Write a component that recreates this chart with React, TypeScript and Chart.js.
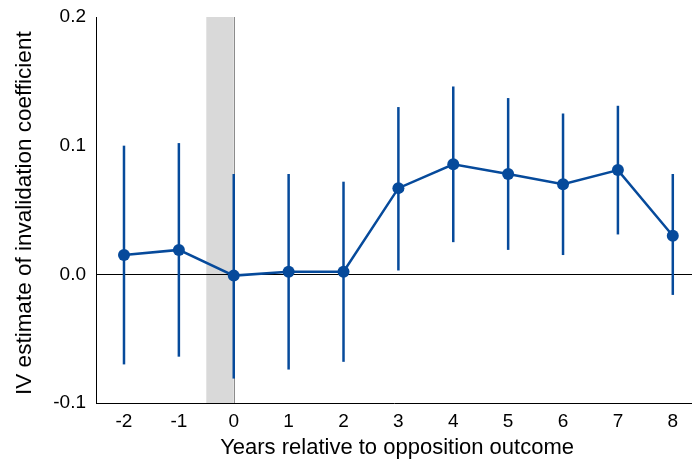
import React, { useEffect, useRef } from 'react';
import { Chart, registerables } from 'chart.js';

Chart.register(...registerables);

const years = [-2, -1, 0, 1, 2, 3, 4, 5, 6, 7, 8];
const estimates = [0.015, 0.019, -0.001, 0.002, 0.002, 0.067, 0.0855, 0.078, 0.070, 0.081, 0.030];
const ciUpper = [0.100, 0.102, 0.078, 0.078, 0.072, 0.130, 0.146, 0.137, 0.125, 0.131, 0.078];
const ciLower = [-0.070, -0.064, -0.081, -0.074, -0.068, 0.003, 0.025, 0.019, 0.015, 0.031, -0.016];
const yTicks = [-0.1, 0, 0.1, 0.2];
const shadeFrom = -0.5;
const shadeTo = 0;

const BLUE = '#064a9b';
const FONT = "'Liberation Sans', Arial, sans-serif";

const decorPlugin = {
  id: 'decor',
  beforeDatasetsDraw(chart: any) {
    const { ctx, chartArea, scales } = chart;
    const x = scales.x;
    const y = scales.y;
    ctx.save();
    // shaded band
    const x0 = x.getPixelForValue(shadeFrom);
    const x1 = x.getPixelForValue(shadeTo);
    ctx.fillStyle = '#d9d9d9';
    ctx.fillRect(x0, chartArea.top, x1 - x0, chartArea.bottom - chartArea.top);
    // vertical line at 0
    ctx.strokeStyle = '#8c8c8c';
    ctx.lineWidth = 1;
    ctx.beginPath();
    ctx.moveTo(Math.round(x1) + 0.5, chartArea.top);
    ctx.lineTo(Math.round(x1) + 0.5, chartArea.bottom);
    ctx.stroke();
    // zero line
    const yz = Math.round(y.getPixelForValue(0)) + 0.5;
    ctx.strokeStyle = '#000000';
    ctx.beginPath();
    ctx.moveTo(chartArea.left, yz);
    ctx.lineTo(chartArea.right, yz);
    ctx.stroke();
    // error bars
    ctx.strokeStyle = BLUE;
    ctx.lineWidth = 2.5;
    ctx.lineCap = 'butt';
    for (let i = 0; i < years.length; i++) {
      const px = x.getPixelForValue(years[i]);
      ctx.beginPath();
      ctx.moveTo(px, y.getPixelForValue(ciUpper[i]));
      ctx.lineTo(px, y.getPixelForValue(ciLower[i]));
      ctx.stroke();
    }
    ctx.restore();
  },
};

export default function App() {
  const ref = useRef<HTMLCanvasElement>(null);
  useEffect(() => {
    if (!ref.current) return;
    const chart = new Chart(ref.current, {
      type: 'line',
      data: {
        datasets: [
          {
            data: years.map((yr, i) => ({ x: yr, y: estimates[i] })),
            borderColor: BLUE,
            backgroundColor: BLUE,
            borderWidth: 2.5,
            pointRadius: 6,
            pointBackgroundColor: BLUE,
            pointBorderColor: BLUE,
            pointBorderWidth: 0,
            tension: 0,
            clip: false,
          },
        ],
      },
      options: {
        animation: false,
        responsive: false,
        events: [],
        layout: { autoPadding: false, padding: { top: 17, right: 0, left: 0, bottom: 0 } },
        plugins: { legend: { display: false }, tooltip: { enabled: false } },
        scales: {
          x: {
            type: 'linear',
            min: -2.51,
            max: 8.35,
            afterBuildTicks: (s: any) => {
              s.ticks = years.map((v) => ({ value: v }));
            },
            afterFit: (s: any) => {
              s.height = 58;
              s.paddingRight = 0;
              s.paddingLeft = 0;
            },
            grid: { display: false, drawTicks: false },
            border: { display: true, color: '#000000', width: 1 },
            ticks: {
              color: '#000000',
              padding: 7,
              font: { family: FONT, size: 19 },
              callback: (v: any) => String(v),
            },
            title: {
              display: true,
              text: ' Years relative to opposition outcome',
              color: '#000000',
              font: { family: FONT, size: 22 },
              padding: { top: 0, bottom: 0 },
            },
          },
          y: {
            type: 'linear',
            min: -0.1,
            max: 0.2,
            afterBuildTicks: (s: any) => {
              s.ticks = yTicks.map((v) => ({ value: v }));
            },
            afterFit: (s: any) => {
              s.width = 96;
              s.paddingTop = 0;
              s.paddingBottom = 0;
            },
            grid: { display: false, drawTicks: false },
            border: { display: true, color: '#000000', width: 1 },
            ticks: {
              color: '#000000',
              padding: 10,
              font: { family: FONT, size: 19 },
              callback: (v: any) => Number(v).toFixed(1),
            },
            title: {
              display: true,
              text: 'IV estimate of invalidation coefficient ',
              color: '#000000',
              font: { family: FONT, size: 22.5 },
              padding: { top: 11, bottom: 0 },
            },
          },
        },
      },
      plugins: [decorPlugin],
    });
    return () => chart.destroy();
  }, []);
  return (
    <div style={{ position: 'absolute', left: 0, top: 0, width: 692, height: 461, background: '#fff' }}>
      <canvas ref={ref} width={692} height={461} />
    </div>
  );
}
